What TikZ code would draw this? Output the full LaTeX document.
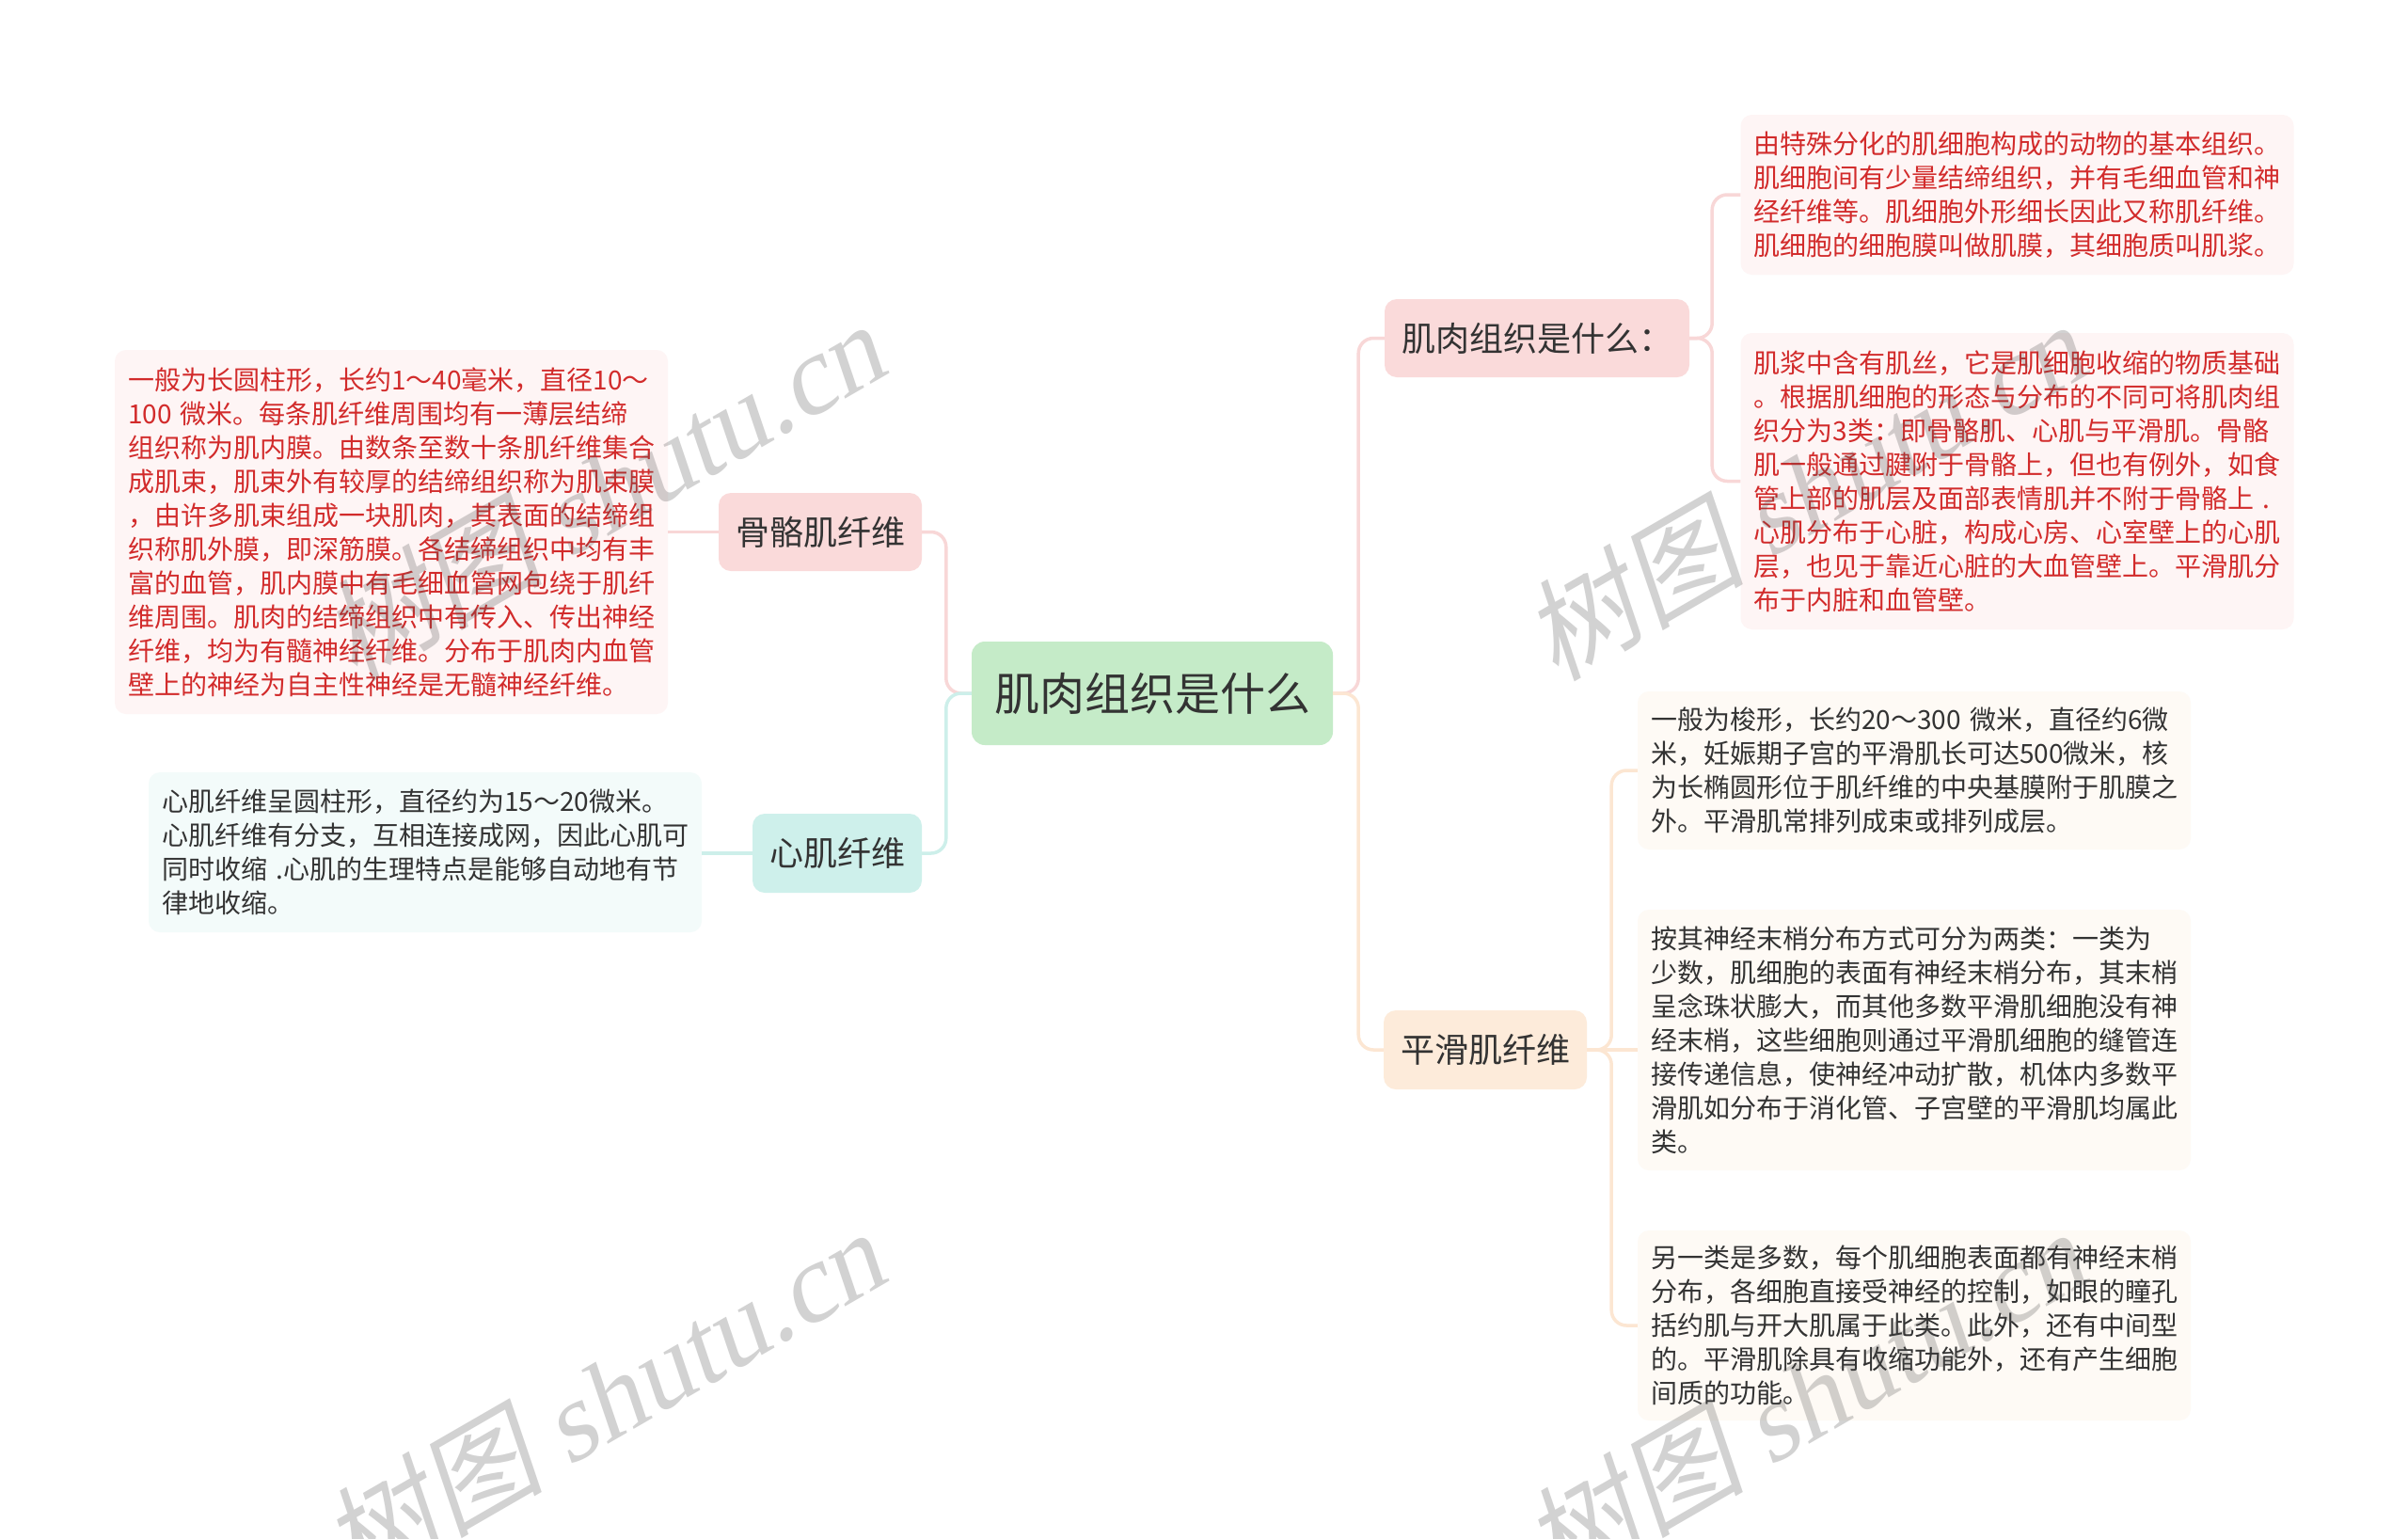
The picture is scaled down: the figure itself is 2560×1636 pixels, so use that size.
\documentclass[tikz,border=0pt]{standalone}
\usepackage{fontspec}
\setmainfont{Noto Sans CJK SC}
\newfontfamily\wmlatin[FakeSlant=0.2]{Liberation Serif}
\newfontfamily\wmcjk[FakeSlant=0.2]{Noto Sans CJK SC}
\definecolor{pinkfill}{HTML}{FADADA}
\definecolor{cyanfill}{HTML}{CEF0EB}
\definecolor{peachfill}{HTML}{FDEBDA}
\definecolor{greenfill}{HTML}{C5EBC8}
\definecolor{pinknote}{HTML}{FEF5F5}
\definecolor{cyannote}{HTML}{F3FBFA}
\definecolor{peachnote}{HTML}{FEFAF5}
\definecolor{pinkline}{HTML}{F8D7D7}
\definecolor{cyanline}{HTML}{CDEFEA}
\definecolor{peachline}{HTML}{FCE6D2}
\definecolor{redtext}{HTML}{D22B2B}
\definecolor{darktext}{HTML}{333333}
\tikzset{
  rootbox/.style={rounded corners=14pt, fill=greenfill, inner xsep=24pt, inner ysep=0pt,
    minimum height=110pt, font=\fontsize{48pt}{54pt}\selectfont, text=darktext},
  topicbox/.style={rounded corners=13pt, inner xsep=18pt, inner ysep=0pt,
    minimum height=83pt, font=\fontsize{36pt}{40pt}\selectfont, text=darktext},
  notebox/.style={rounded corners=12pt, inner xsep=14pt, inner ysep=0pt,
    text width=560pt, align=left, font=\fontsize{28pt}{36pt}\selectfont},
  link/.style={line width=3.5pt, rounded corners=16pt},
  wmark/.style={font=\fontsize{118pt}{124pt}\selectfont, text=black!70, text opacity=0.25, rotate=30},
}
\begin{document}
\begin{tikzpicture}[x=1pt,y=-1pt]
\fill[white] (0,0) rectangle (2560,1636);
\useasboundingbox (0,0) rectangle (2560,1636);

% central topic
\node[rootbox] (root) at (1225,737) {肌肉组织是什么};

% main branches
\node[topicbox, fill=pinkfill] (what) at (1634,359.5) {肌肉组织是什么：};
\node[topicbox, fill=pinkfill] (skel) at (872,565.5) {骨骼肌纤维};
\node[topicbox, fill=cyanfill, minimum height=84pt] (card) at (890,907) {心肌纤维};
\node[topicbox, fill=peachfill, minimum height=84pt] (smooth) at (1579,1116) {平滑肌纤维};

% notes
\node[notebox, fill=pinknote, text=redtext, minimum height=387pt] (skelnote) at (416,565.5) {%
一般为长圆柱形，长约1～40毫米，直径10～\\
100~微米。每条肌纤维周围均有一薄层结缔\\
组织称为肌内膜。由数条至数十条肌纤维集合\\
成肌束，肌束外有较厚的结缔组织称为肌束膜\\
，由许多肌束组成一块肌肉，其表面的结缔组\\
织称肌外膜，即深筋膜。各结缔组织中均有丰\\
富的血管，肌内膜中有毛细血管网包绕于肌纤\\
维周围。肌肉的结缔组织中有传入、传出神经\\
纤维，均为有髓神经纤维。分布于肌肉内血管\\
壁上的神经为自主性神经是无髓神经纤维。};

\node[notebox, fill=cyannote, text=darktext, minimum height=170pt] (cardnote) at (452,906) {%
心肌纤维呈圆柱形，直径约为15～20微米。\\
心肌纤维有分支，互相连接成网，因此心肌可\\
同时收缩~.心肌的生理特点是能够自动地有节\\
律地收缩。};

\node[notebox, fill=pinknote, text=redtext, minimum height=170pt] (whatnoteA) at (2144.5,207) {%
由特殊分化的肌细胞构成的动物的基本组织。\\
肌细胞间有少量结缔组织，并有毛细血管和神\\
经纤维等。肌细胞外形细长因此又称肌纤维。\\
肌细胞的细胞膜叫做肌膜，其细胞质叫肌浆。};

\node[notebox, fill=pinknote, text=redtext, minimum height=315pt] (whatnoteB) at (2144.5,511.5) {%
肌浆中含有肌丝，它是肌细胞收缩的物质基础\\
。根据肌细胞的形态与分布的不同可将肌肉组\\
织分为3类：即骨骼肌、心肌与平滑肌。骨骼\\
肌一般通过腱附于骨骼上，但也有例外，如食\\
管上部的肌层及面部表情肌并不附于骨骼上~.\\
心肌分布于心脏，构成心房、心室壁上的心肌\\
层，也见于靠近心脏的大血管壁上。平滑肌分\\
布于内脏和血管壁。};

\node[notebox, fill=peachnote, text=darktext, minimum height=168pt] (smoothnoteA) at (2035,819) {%
一般为梭形，长约20～300~微米，直径约6微\\
米，妊娠期子宫的平滑肌长可达500微米，核\\
为长椭圆形位于肌纤维的中央基膜附于肌膜之\\
外。平滑肌常排列成束或排列成层。};

\node[notebox, fill=peachnote, text=darktext, minimum height=277pt] (smoothnoteB) at (2035,1105.5) {%
按其神经末梢分布方式可分为两类：一类为\\
少数，肌细胞的表面有神经末梢分布，其末梢\\
呈念珠状膨大，而其他多数平滑肌细胞没有神\\
经末梢，这些细胞则通过平滑肌细胞的缝管连\\
接传递信息，使神经冲动扩散，机体内多数平\\
滑肌如分布于消化管、子宫壁的平滑肌均属此\\
类。};

\node[notebox, fill=peachnote, text=darktext, minimum height=202pt] (smoothnoteC) at (2035,1409) {%
另一类是多数，每个肌细胞表面都有神经末梢\\
分布，各细胞直接受神经的控制，如眼的瞳孔\\
括约肌与开大肌属于此类。此外，还有中间型\\
的。平滑肌除具有收缩功能外，还有产生细胞\\
间质的功能。};

% connectors: left side
\draw[link, pinkline] (root.west) -- ([xshift=-27pt]root.west) |- (skel.east);
\draw[link, cyanline] (root.west) -- ([xshift=-27pt]root.west) |- (card.east);
% connectors: right side
\draw[link, pinkline] (root.east) -- ([xshift=27pt]root.east) |- (what.west);
\draw[link, peachline] (root.east) -- ([xshift=27pt]root.east) |- (smooth.west);
% second level
\draw[link, pinkline] (what.east) -- ([xshift=24pt]what.east) |- (whatnoteA.west);
\draw[link, pinkline] (what.east) -- ([xshift=24pt]what.east) |- (whatnoteB.west);
\draw[link, pinkline] (skel.west) -- (skelnote.east);
\draw[link, cyanline] (card.west) -- (card.west -| cardnote.east);
\draw[link, peachline] (smooth.east) -- ([xshift=26pt]smooth.east) |- (smoothnoteA.west);
\draw[link, peachline] (smooth.east) -- (smooth.east -| smoothnoteB.west);
\draw[link, peachline] (smooth.east) -- ([xshift=26pt]smooth.east) |- (smoothnoteC.west);

% watermarks
\node[wmark] (wmA) at (640,522) {\wmcjk 树图 \wmlatin shutu.cn};
\node[wmark] (wmB) at (1917,522) {\wmcjk 树图 \wmlatin shutu.cn};
\node[wmark] (wmC) at (640,1487) {\wmcjk 树图 \wmlatin shutu.cn};
\node[wmark] (wmD) at (1917,1487) {\wmcjk 树图 \wmlatin shutu.cn};
\end{tikzpicture}
\end{document}
